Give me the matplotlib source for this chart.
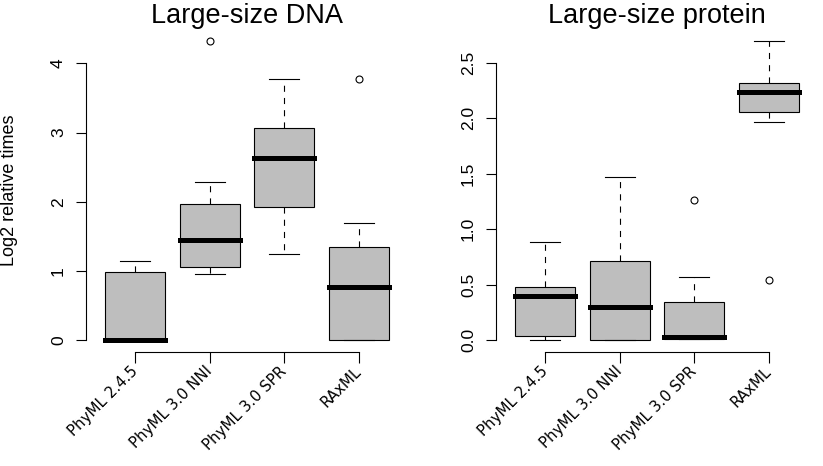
import matplotlib
matplotlib.use("Agg")
import matplotlib.pyplot as plt
import matplotlib.transforms as mtransforms
import numpy as np

plt.rcParams['font.family'] = ['Liberation Sans', 'DejaVu Sans']

methods = ["PhyML 2.4.5", "PhyML 3.0 NNI", "PhyML 3.0 SPR", "RAxML"]

# Large-size DNA (log2 relative times)
dna_whislo = [0.0, 0.96, 1.25, 0.0]
dna_q1 = [0.0, 1.05, 1.92, 0.0]
dna_med = [0.0, 1.44, 2.63, 0.77]
dna_q3 = [0.98, 1.96, 3.07, 1.35]
dna_whishi = [1.14, 2.29, 3.77, 1.69]
dna_fliers = [[], [4.33], [], [3.77]]

# Large-size protein
prot_whislo = [0.0, 0.0, 0.01, 1.97]
prot_q1 = [0.04, 0.0, 0.01, 2.06]
prot_med = [0.40, 0.30, 0.027, 2.24]
prot_q3 = [0.48, 0.71, 0.345, 2.32]
prot_whishi = [0.88, 1.47, 0.565, 2.70]
prot_fliers = [[], [], [1.26], [0.54]]


def make_stats(lo, q1, med, q3, hi, fl):
    stats = []
    for i in range(len(lo)):
        stats.append(dict(whislo=lo[i], q1=q1[i], med=med[i], q3=q3[i],
                          whishi=hi[i], fliers=np.array(fl[i])))
    return stats


def draw(fig, ax, stats, title, yticks, fmt):
    ax.bxp(stats, positions=[1, 2, 3, 4], widths=0.8, patch_artist=True,
           boxprops=dict(facecolor='#bebebe', edgecolor='black', linewidth=0.8),
           medianprops=dict(color='black', linewidth=3.6, solid_capstyle='projecting'),
           whiskerprops=dict(color='black', linewidth=0.8, linestyle=(0, (5.5, 5.5))),
           capprops=dict(color='black', linewidth=0.8),
           capwidths=0.4,
           flierprops=dict(marker='o', markerfacecolor='none', markeredgecolor='black',
                           markersize=5, markeredgewidth=0.8))
    allv = [s['whislo'] for s in stats] + [s['whishi'] for s in stats]
    allv += [v for s in stats for v in s['fliers']]
    lo, hi = min(allv), max(allv)
    r = hi - lo
    ax.set_ylim(lo - 0.04 * r, hi + 0.04 * r)
    ax.set_xlim(0.34, 4.66)
    ax.spines['top'].set_visible(False)
    ax.spines['right'].set_visible(False)
    ax.spines['left'].set_bounds(yticks[0], yticks[-1])
    ax.spines['bottom'].set_bounds(1, 4)
    ax.spines['left'].set_linewidth(0.8)
    ax.spines['bottom'].set_linewidth(0.8)
    ax.set_yticks(yticks)
    ax.set_yticklabels([fmt.format(v) for v in yticks], rotation=90, va='center',
                       fontsize=12.5)
    ax.set_xticks([1, 2, 3, 4])
    ax.set_xticklabels(methods, rotation=45, ha='right', va='center',
                       rotation_mode='anchor', fontsize=10.8, family='DejaVu Sans')
    shift = mtransforms.ScaledTranslation(0.10, 0, fig.dpi_scale_trans)
    for lab in ax.get_xticklabels():
        lab.set_transform(lab.get_transform() + shift)
    ax.tick_params(axis='y', direction='out', length=7.4, width=0.8, pad=7)
    ax.tick_params(axis='x', direction='out', length=7.8, width=0.8, pad=4.5)
    ax.set_title(title, fontsize=19.5, pad=1)


fig = plt.figure(figsize=(8.23, 4.66), dpi=100)
ax1 = fig.add_axes([86 / 823, 1 - 352 / 466, 322 / 823, 323.4 / 466])
ax2 = fig.add_axes([496 / 823, 1 - 352 / 466, 322 / 823, 323.4 / 466])

draw(fig, ax1, make_stats(dna_whislo, dna_q1, dna_med, dna_q3, dna_whishi, dna_fliers),
     "Large-size DNA", [0, 1, 2, 3, 4], "{:.0f}")
draw(fig, ax2, make_stats(prot_whislo, prot_q1, prot_med, prot_q3, prot_whishi, prot_fliers),
     "Large-size protein", [0.0, 0.5, 1.0, 1.5, 2.0, 2.5], "{:.1f}")

ax1.set_ylabel("Log2 relative times", fontsize=13)
ax1.yaxis.set_label_coords(-0.211, 0.5)

fig.savefig("out.png", dpi=100)
